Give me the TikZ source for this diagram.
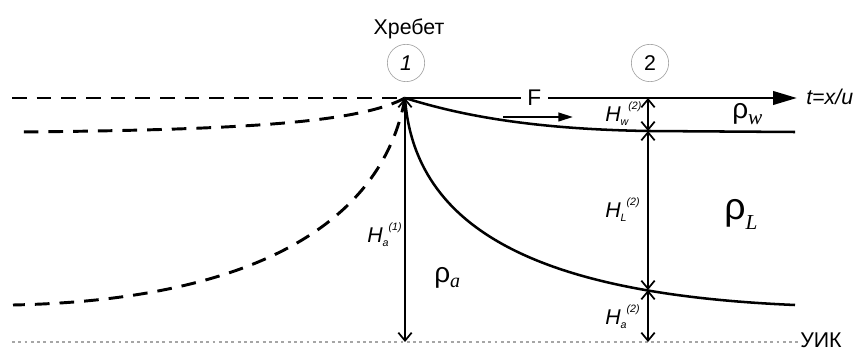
\documentclass[tikz,border=0pt]{standalone}
\usepackage{fontspec}
\setmainfont{Liberation Sans}
\newfontfamily\serifit{Liberation Serif}
\usetikzlibrary{arrows.meta}

% labels of the layer thicknesses and of the densities
\newcommand{\Hlab}[2]{\textit{H\raisebox{-3pt}{\fontsize{8}{8}\selectfont #1}\raisebox{9.5pt}{\fontsize{8}{8}\selectfont (#2)}}}
\newcommand{\rholab}[4]{{\fontsize{#1}{#1}\selectfont ρ}\raisebox{-#3}{\serifit\itshape\fontsize{#2}{#2}\selectfont #4}}

\begin{document}
\begin{tikzpicture}[x=0.75pt, y=-0.75pt,
  bound/.style={line width=1.9pt},
  oldbound/.style={line width=2.2pt, dash pattern=on 11pt off 7.5pt},
  gauge/.style={line width=1.3pt, {Straight Barb[length=6pt,width=10pt]}-{Straight Barb[length=6pt,width=10pt]}},
  marker/.style={circle, draw=gray!70, line width=0.5pt, minimum size=28pt, inner sep=0pt, font=\fontsize{16}{16}\selectfont},
  lab/.style={font=\fontsize{16}{16}\selectfont, inner sep=0pt}
]
\useasboundingbox (0,0) rectangle (863,352);

% Points
\coordinate (crest) at (405,98);
\coordinate (axisend) at (797,98);
\coordinate (westtop) at (12,98);
\coordinate (top2) at (648,98);
\coordinate (wL) at (648,131);
\coordinate (wend) at (795,132);
\coordinate (La) at (648,290);
\coordinate (aend) at (795,305);
\coordinate (base1) at (405,342);
\coordinate (base2) at (648,342);
\coordinate (westbase) at (12,342);
\coordinate (westw) at (17,132);
\coordinate (westa) at (13,305);
\coordinate (fstart) at (503,117);
\coordinate (fend) at (573,117);

% Titles
\node[lab] (ridge) at (409,29) {Хребет};
\node[marker] (sec1) at (406,63) {\textit{1}};
\node[marker] (sec2) at (650,63) {2};
\node[lab, anchor=west, font=\itshape\fontsize{16}{16}\selectfont] (taxis) at (806,97) {t=x/u};
\node[lab, anchor=base west] (uik) at (800,348) {УИК};

% Axis and flow
\draw[line width=2.2pt, -{Triangle[length=18pt,width=10pt]}] (crest) -- node[pos=0.33, fill=white, inner xsep=5pt, inner ysep=1pt, font=\fontsize{17}{17}\selectfont] (force) {F} (axisend);
\draw[line width=1.5pt, -{Triangle[length=11pt,width=6.5pt]}] (fstart) -- (fend);

% Former boundaries (dashed)
\draw[oldbound] (westtop) -- (crest);
\draw[oldbound] (crest) .. controls (360,122) and (250,130) .. (westw);
\draw[oldbound] (crest) .. controls (382,225) and (250,300) .. (westa);

% Boundaries
\draw[bound] (crest) .. controls (450,112) and (520,129) .. (wL) -- (wend);
\draw[bound] (crest) .. controls (415,240) and (560,295) .. (aend);

% Level line
\draw[gray!70, line width=2.2pt, dash pattern=on 2.2pt off 2.5pt] (westbase) -- (uik.west |- westbase);

% Thicknesses
\draw[gauge] (crest) -- (base1);
\draw[gauge] (top2) -- (wL);
\draw[gauge] (wL) -- (La);
\draw[gauge] (La) -- (base2);

\node[lab, anchor=base west] (ha1) at (367,243) {\Hlab{a}{1}};
\node[lab, anchor=base west] (hw2) at (605,122) {\Hlab{w}{2}};
\node[lab, anchor=base west] (hl2) at (605,218) {\Hlab{L}{2}};
\node[lab, anchor=base west] (ha2) at (605,325) {\Hlab{a}{2}};

\node[lab, anchor=base west] (rhow) at (732,119) {\rholab{21}{16}{4.5pt}{w}};
\node[lab, anchor=base west] (rhol) at (724,220) {\rholab{28}{16}{7pt}{L}};
\node[lab, anchor=base west] (rhoa) at (434,283) {\rholab{21}{15}{3.5pt}{a}};

\end{tikzpicture}
\end{document}
